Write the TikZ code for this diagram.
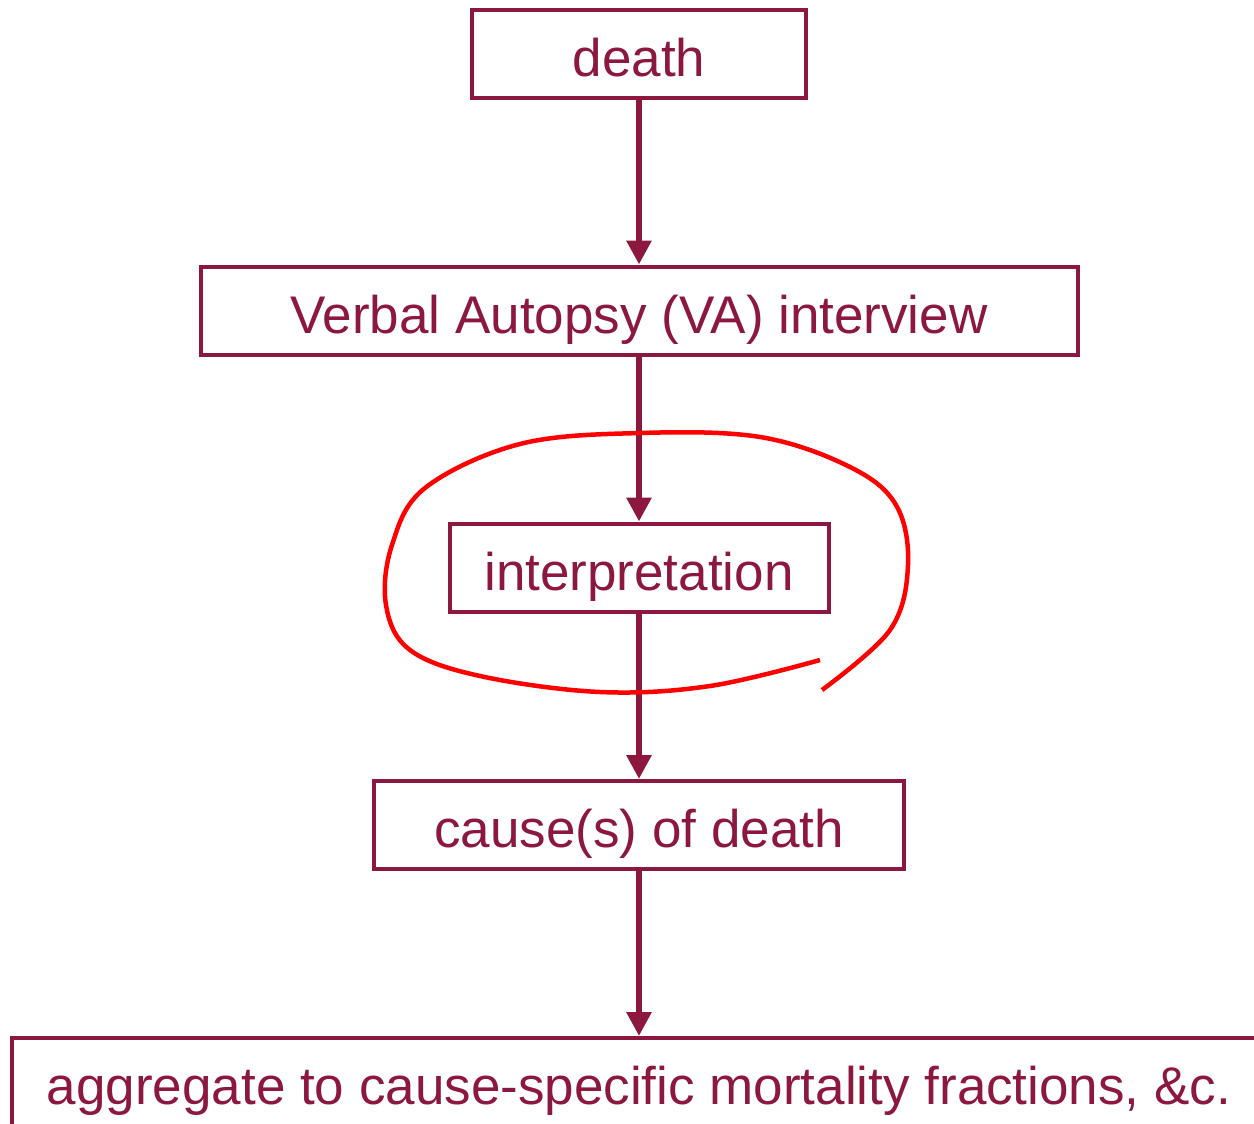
\documentclass[tikz,border=0pt]{standalone}
\usepackage{fontspec}
\setmainfont{Liberation Sans}
\usetikzlibrary{arrows.meta}
\definecolor{vamaroon}{RGB}{140,24,62}
\tikzset{
  stage/.style={draw=vamaroon,text=vamaroon,line width=4pt,minimum height=88pt,inner sep=0pt,
    text height=45pt,text depth=0pt,font=\fontsize{53}{60}\selectfont},
  flow/.style={draw=vamaroon,line width=6pt,-{Triangle[width=24pt,length=24pt]}}
}
\begin{document}
\begin{tikzpicture}[x=1pt,y=-1pt]
        \useasboundingbox (0,0) rectangle (1254,1124);
        %% Blocks
        \node[stage,minimum width=334pt] (death) at (639,54) {death};
        \node[stage,minimum width=877pt] (va) at (639,310.5) {Verbal Autopsy (VA) interview};
        \node[stage,minimum width=379pt] (interp) at (639,567.5) {interpretation};
        \node[stage,minimum width=530pt] (cause) at (639,825) {cause(s) of death};
        \node[stage,minimum width=1254pt] (aggr) at (639,1082) {aggregate to cause-specific mortality fractions, \&c.};
        %% Arrows
        \draw[flow] (death.south) -- (va.north);
        \draw[flow] (va.south) -- (interp.north);
        \draw[flow] (interp.south) -- (cause.north);
        \draw[flow] (cause.south) -- (aggr.north);
        %% hand-drawn loop
        \draw[red,line width=4.5pt,line cap=butt] plot[smooth,tension=0.6] coordinates {
          (820,660) (710,686) (600,692) (480,676) (410,650) (386,605) (392,545)
          (425,488) (520,444) (640,433) (760,437) (850,467) (896,505) (908,565)
          (890,630) (822,690)};
\end{tikzpicture}
\end{document}
